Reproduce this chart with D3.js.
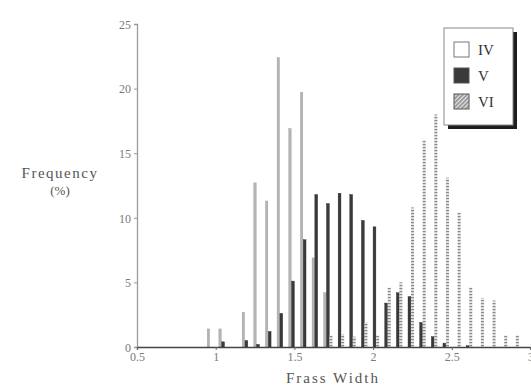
<!DOCTYPE html>
<html>
<head>
<meta charset="utf-8">
<script src="https://cdn.jsdelivr.net/npm/d3@7/dist/d3.min.js"></script>
<style>
  body { margin: 0; background: #fff; }
  svg { display: block; }
  text { font-family: "Liberation Serif", "DejaVu Serif", serif; }
</style>
</head>
<body>
<svg id="chart" width="531" height="386"></svg>
<script>
// bin centres (frass width)
const binCenters = [0.976, 1.050, 1.124, 1.198, 1.272, 1.346, 1.420, 1.494, 1.568,
  1.642, 1.716, 1.790, 1.864, 1.938, 2.012, 2.086, 2.160, 2.234, 2.308, 2.382,
  2.456, 2.530, 2.604, 2.678, 2.752, 2.826, 2.900];

// frequency (%) per instar
const seriesIV = [1.4, 1.4, 0, 2.7, 12.7, 11.3, 22.4, 16.9, 19.7, 6.9, 4.2, 0, 0, 0,
  0, 0, 0, 0, 0, 0, 0, 0, 0, 0, 0, 0, 0];
const seriesV = [0, 0.4, 0, 0.5, 0.2, 1.2, 2.6, 5.1, 8.3, 11.8, 11.1, 11.9, 11.8, 9.8,
  9.3, 3.4, 4.2, 3.9, 1.9, 0.8, 0.3, 0, 0.1, 0, 0, 0, 0];
const seriesVI = [0, 0, 0, 0, 0, 0, 0, 0, 0, 0, 0.9, 1.0, 0.8, 1.9,
  0.9, 4.6, 5.0, 10.8, 16.0, 18.0, 13.1, 10.4, 4.6, 3.8, 3.6, 0.9, 0.9];

const seriesNames = ['IV', 'V', 'VI'];
const xTicks = [0.5, 1, 1.5, 2, 2.5, 3];
const yTicks = [0, 5, 10, 15, 20, 25];

const svg = d3.select('#chart');

// Escalas
const x = d3.scaleLinear().domain([0.5, 3]).range([137, 530.5]);
const y = d3.scaleLinear().domain([0, 25]).range([347, 24]);

// patterns
const defs = svg.append('defs');
const dots = defs.append('pattern')
  .attr('id', 'dots')
  .attr('patternUnits', 'userSpaceOnUse')
  .attr('width', 4).attr('height', 3);
dots.append('rect').attr('width', 4).attr('height', 3).attr('fill', '#e4e4e4');
dots.append('rect').attr('width', 4).attr('height', 1.2).attr('fill', '#8a8a8a');

const hatch = defs.append('pattern')
  .attr('id', 'hatch')
  .attr('patternUnits', 'userSpaceOnUse')
  .attr('width', 3).attr('height', 3)
  .attr('patternTransform', 'rotate(45)');
hatch.append('rect').attr('width', 3).attr('height', 3).attr('fill', '#ddd');
hatch.append('rect').attr('width', 1.4).attr('height', 3).attr('fill', '#888');

// series styles: offset from the bin centre
const series = [
  { name: 'IV', values: seriesIV, dx: -3.5, w: 2.4, fill: '#b4b4b4', stroke: '#a0a0a0' },
  { name: 'V', values: seriesV, dx: -0.5, w: 2.8, fill: '#3a3a3a', stroke: '#2a2a2a' },
  { name: 'VI', values: seriesVI, dx: 2.6, w: 3, fill: 'url(#dots)', stroke: 'none' }
];

// axes
const yAxis = svg.append('g').attr('transform', `translate(${x(0.5)},0)`)
  .call(d3.axisLeft(y).tickValues(yTicks).tickSize(3).tickPadding(3));
yAxis.select('.domain').attr('stroke', '#9a9a9a').attr('stroke-width', 1.3);
yAxis.selectAll('.tick line').attr('stroke', '#999');
yAxis.selectAll('.tick text')
  .attr('fill', '#7a7a7a')
  .style('font-size', '12px')
  .attr('dy', '0.35em');

const dataContainer = svg.append('g').attr('class', 'dataContainer');
series.forEach((s) => {
  dataContainer.append('g')
    .selectAll('rect')
    .data(s.values.map((v, i) => ({ c: binCenters[i], v })).filter((d) => d.v > 0))
    .join('rect')
    .attr('x', (d) => x(d.c) + s.dx - s.w / 2)
    .attr('width', s.w)
    .attr('y', (d) => y(d.v))
    .attr('height', (d) => y(0) - y(d.v))
    .attr('fill', s.fill)
    .attr('stroke', s.stroke)
    .attr('stroke-width', 0.4);
});

const xAxis = svg.append('g').attr('transform', `translate(0,${y(0)})`)
  .call(d3.axisBottom(x).tickValues(xTicks).tickSize(3).tickPadding(2)
    .tickFormat((d) => String(d)));
xAxis.select('.domain').attr('stroke', '#444').attr('stroke-width', 1.3);
xAxis.selectAll('.tick line').attr('stroke', '#666');
xAxis.selectAll('.tick text')
  .attr('fill', '#7a7a7a')
  .style('font-size', '12px');

// axis titles
svg.append('text')
  .attr('x', 333).attr('y', 383)
  .attr('text-anchor', 'middle')
  .attr('fill', '#555')
  .style('font-size', '15px')
  .style('letter-spacing', '2px')
  .text('Frass Width');

svg.append('text')
  .attr('x', 60).attr('y', 178)
  .attr('text-anchor', 'middle')
  .attr('fill', '#555')
  .style('font-size', '15px')
  .style('letter-spacing', '1.5px')
  .text('Frequency');
svg.append('text')
  .attr('x', 60).attr('y', 195)
  .attr('text-anchor', 'middle')
  .attr('fill', '#555')
  .style('font-size', '13px')
  .text('(%)');

// legend
const legend = svg.append('g').attr('class', 'legendContainer');
legend.append('rect')
  .attr('x', 448).attr('y', 32).attr('width', 69).attr('height', 97)
  .attr('fill', '#1e1e1e');
legend.append('rect')
  .attr('x', 444).attr('y', 28).attr('width', 69).attr('height', 97)
  .attr('fill', '#fff').attr('stroke', '#888').attr('stroke-width', 1);

const swatchFill = ['#fff', '#3a3a3a', 'url(#hatch)'];
const legendItems = legend.selectAll('g.legend-item')
  .data(seriesNames)
  .join('g')
  .attr('class', 'legend-item')
  .attr('transform', (d, i) => `translate(454, ${42 + i * 26})`);
legendItems.append('rect')
  .attr('width', 15).attr('height', 15)
  .attr('fill', (d, i) => swatchFill[i])
  .attr('stroke', (d, i) => (i === 0 ? '#777' : '#555'))
  .attr('stroke-width', 1);
legendItems.append('text')
  .attr('x', 24).attr('y', 13)
  .attr('fill', '#333')
  .style('font-size', '15px')
  .text((d) => d);
</script>
</body>
</html>
